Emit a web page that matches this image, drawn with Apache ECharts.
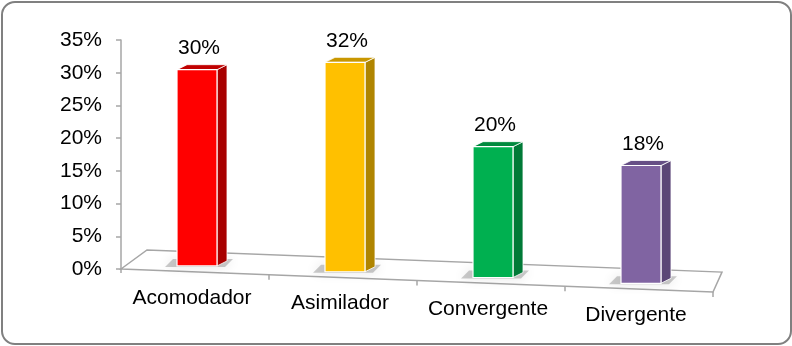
<!DOCTYPE html>
<html>
<head>
<meta charset="utf-8">
<script src="https://cdn.jsdelivr.net/npm/echarts@6/dist/echarts.min.js"></script>
<style>
html,body{margin:0;padding:0;background:#fff;}
#frame{position:absolute;left:1px;top:1px;width:787px;height:340px;border:2px solid #808080;border-radius:14px;box-sizing:content-box;}
#chart{position:absolute;left:0;top:0;width:792px;height:346px;}
</style>
</head>
<body>
<div id="frame"></div>
<div id="chart"></div>
<script>
// ---- data ----
const categories = ['Acomodador', 'Asimilador', 'Convergente', 'Divergente'];
const values = [30, 32, 20, 18];
const frontColors = ['#FF0000', '#FFC000', '#00B050', '#8064A2'];
const sideColors = ['#A80000', '#B08500', '#007A37', '#5B4677'];
const topColors = ['#C00000', '#C99700', '#008A3E', '#664F86'];
const yMin = 0, yMax = 35, yInterval = 5;

// ---- style constants (perspective look) ----
const FONT = 'Liberation Sans, Arial, sans-serif';
const FONT_SIZE = 21;
const SLOPE = 0.039;      // tilt of floor front edge
const BAR_W = 40;
const DEPTH_X = 10, DEPTH_Y = -5;

const chart = echarts.init(document.getElementById('chart'), null, {renderer: 'canvas'});

function frontY(cs, x) {
  return cs.y + cs.height + SLOPE * (x - cs.x);
}

function renderFloor(params, api) {
  const cs = params.coordSys;
  const x0 = cs.x, x1 = cs.x + cs.width;
  const fl = [x0, frontY(cs, x0)];
  const fr = [x1, frontY(cs, x1)];
  const bl = [x0 + 26, fl[1] - 19];
  const br = [x1 + 9, fr[1] - 20];
  const children = [{
    type: 'polygon',
    shape: {points: [fl, fr, br, bl]},
    style: {fill: '#ffffff', stroke: '#a6a6a6', lineWidth: 1.5}
  }];
  const n = categories.length;
  const band = cs.width / n;
  for (let k = 1; k <= n; k++) {
    const x = x0 + k * band;
    const y = frontY(cs, x);
    children.push({type: 'line', shape: {x1: x, y1: y, x2: x, y2: y + 5},
      style: {stroke: '#a6a6a6', lineWidth: 1.5}});
  }
  children.push({type: 'line', shape: {x1: x0, y1: fl[1], x2: x0, y2: fl[1] + 4},
    style: {stroke: '#a6a6a6', lineWidth: 1.5}});
  return {type: 'group', children: children};
}

function renderBar(params, api) {
  const cs = params.coordSys;
  const i = api.value(0), v = api.value(1);
  const top = api.coord([i, v]);
  const zero = api.coord([i, 0]);
  const cx = top[0] + 2;
  const shift = SLOPE * (cx - cs.x) - 6;
  const yb = zero[1] + shift;
  const yt = top[1] + shift;
  const xl = cx - BAR_W / 2, xr = cx + BAR_W / 2;
  const labelX = zero[0] - 3;
  const labelY = frontY(cs, labelX) + 26;
  return {
    type: 'group',
    children: [
      { // floor shadow
        type: 'polygon',
        shape: {points: [[xl - 12, yb + 1], [xr + 8, yb + 1], [xr + 16, yb - 7], [xl - 4, yb - 7]]},
        style: {fill: 'rgba(0,0,0,0.2)', shadowBlur: 12, shadowColor: 'rgba(0,0,0,0.55)'}
      },
      { // side face
        type: 'polygon',
        shape: {points: [[xr, yt], [xr + DEPTH_X, yt + DEPTH_Y], [xr + DEPTH_X, yb + DEPTH_Y], [xr, yb]]},
        style: {fill: sideColors[i], stroke: '#ffffff', lineWidth: 0.8}
      },
      { // top face
        type: 'polygon',
        shape: {points: [[xl, yt], [xl + DEPTH_X, yt + DEPTH_Y], [xr + DEPTH_X, yt + DEPTH_Y], [xr, yt]]},
        style: {fill: topColors[i], stroke: '#ffffff', lineWidth: 0.8}
      },
      { // front face
        type: 'rect',
        shape: {x: xl, y: yt, width: BAR_W, height: yb - yt},
        style: {fill: frontColors[i], stroke: '#ffffff', lineWidth: 1.2}
      },
      { // value label
        type: 'text',
        style: {text: v + '%', x: cx + 2, y: yt - 21, align: 'center', verticalAlign: 'middle',
          font: FONT_SIZE + 'px ' + FONT, fill: '#000000'}
      },
      { // category label
        type: 'text',
        style: {text: categories[i], x: labelX, y: labelY, align: 'center', verticalAlign: 'middle',
          font: FONT_SIZE + 'px ' + FONT, fill: '#000000'}
      }
    ]
  };
}

const option = {
  backgroundColor: 'transparent',
  animation: false,
  grid: {left: 121, top: 40, width: 592, bottom: 77},
  xAxis: {
    type: 'category',
    data: categories,
    boundaryGap: true,
    axisLine: {show: false},
    axisTick: {show: false},
    axisLabel: {show: false},
    splitLine: {show: false}
  },
  yAxis: {
    type: 'value',
    min: yMin, max: yMax, interval: yInterval,
    axisLine: {show: true, lineStyle: {color: '#a6a6a6', width: 1.5}},
    axisTick: {show: true, length: 5, lineStyle: {color: '#a6a6a6', width: 1.5}},
    splitLine: {show: false},
    axisLabel: {formatter: '{value}%', fontSize: FONT_SIZE, fontFamily: FONT, color: '#000000', margin: 19}
  },
  series: [
    {
      type: 'custom',
      renderItem: renderFloor,
      data: [[0]],
      z: 1,
      silent: true
    },
    {
      type: 'custom',
      renderItem: renderBar,
      data: values.map((v, i) => [i, v]),
      encode: {x: 0, y: 1},
      z: 2,
      clip: false
    }
  ]
};
chart.setOption(option);
</script>
</body>
</html>
